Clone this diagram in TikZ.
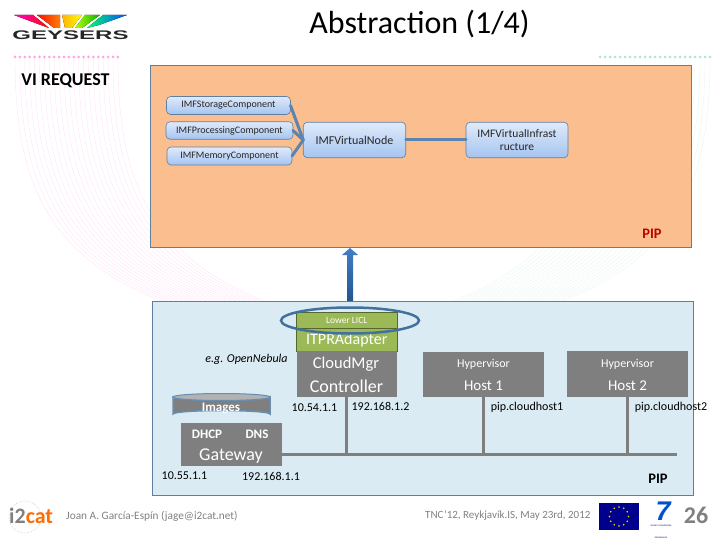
\documentclass[tikz,border=0pt]{standalone}
\usepackage{fontspec}
\setmainfont{Carlito}
\usetikzlibrary{arrows.meta}
\newcommand\szf[1]{\fontsize{#1}{#1}\selectfont}
\definecolor{peach}{HTML}{FBBE8E}
\definecolor{skyp}{HTML}{DAEBF3}
\definecolor{panelb}{HTML}{5F7F9F}
\definecolor{conn}{HTML}{5B84B1}
\definecolor{grayb}{HTML}{7F7F7F}
\definecolor{greenb}{HTML}{9BB956}
\definecolor{foot}{HTML}{808080}
\definecolor{ringb}{HTML}{41719C}
\definecolor{imftop}{HTML}{E0EAFA}
\definecolor{imfbot}{HTML}{A5C4F0}
\definecolor{arrtop}{HTML}{3F7FC6}
\definecolor{arrbot}{HTML}{24568F}
\tikzset{
  dim/.style 2 args={minimum width=#1pt,minimum height=#2pt,inner sep=0pt,outer sep=0pt},
  panel/.style={draw=panelb,line width=1pt},
  imfbox/.style={draw=panelb,line width=0.6pt,rounded corners=4pt,top color=imftop,bottom color=imfbot,text=black!85,align=center},
  link/.style={draw=conn,line width=3pt,line cap=round},
  graybox/.style={fill=grayb,text=white},
  greenbox/.style={fill=greenb,text=white,draw=black!45!greenb,line width=0.5pt},
  bus/.style={draw=grayb,line width=3pt},
  lbl/.style={text=black,inner sep=0pt},
  ftext/.style={text=foot,inner sep=0pt,anchor=west},
  whitet/.style={text=white,inner sep=0pt},
  bgpink/.style={draw=red!25!magenta!12!white,line width=0.35pt},
  bggreen/.style={draw=cyan!30!green!10!white,line width=0.35pt},
}
\begin{document}
\begin{tikzpicture}[x=1pt,y=-1pt]
\useasboundingbox (0,0) rectangle (720,540);
% faint slide background
\foreach \i in {0,...,21}{
  \pgfmathsetmacro\xx{15+\i*4.9}
  \draw[bgpink] (\xx,58) .. controls (\xx,170) and (\xx+25,255) .. (\xx+150,302);
  \fill[red!35!magenta!35!white] (\xx,57) circle (1.5);
}
\foreach \i in {0,...,22}{
  \pgfmathsetmacro\xx{600+\i*5}
  \draw[bggreen] (\xx,58) .. controls (\xx,170) and (\xx-25,255) .. (\xx-150,302);
  \fill[cyan!35!green!30!white] (\xx,57) circle (1.5);
}
% title
\node[lbl] (title) at (419.5,24) {\szf{32}Abstraction (1/4)};
% GEYSERS logo
\fill[left color=magenta!80!red,right color=red!90!orange] (14,15) -- (33,15) -- (49,28) -- (38,24) -- cycle;
\fill[left color=red!90!orange,right color=orange] (37,15) -- (60,15) -- (60,28) -- (54,28) -- cycle;
\fill[left color=orange!60!yellow,right color=yellow] (62,15) -- (82,15) -- (72,28) -- (65,28) -- cycle;
\fill[left color=yellow!70!green,right color=green!70!black] (85,15) -- (100,15) -- (82,28) -- (75,28) -- cycle;
\fill[left color=green!60!cyan,right color=blue!70!cyan] (103,15) -- (127,15) -- (99,25) -- (87,28) -- cycle;
\node[inner sep=0pt,text=black!85] (geysers) at (70.5,35) {\fontspec{Liberation Sans}\bfseries\scalebox{1.92}[1]{\szf{12.5}GEYSERS}};
% VI REQUEST
\node[lbl] (vireq) at (65.5,81) {\szf{18}\bfseries VI REQUEST};
% peach panel
\node[panel,fill=peach,dim={541}{181}] (pip) at (420.5,156.5) {};
\node[lbl,text=red!75!black] (piplbl) at (652,233.5) {\szf{14.5}\bfseries PIP};
% IMF boxes
\node[imfbox,dim={124}{18}] (storage) at (228.5,105.5) {\szf{10}IMFStorageComponent};
\node[imfbox,dim={127}{17.5}] (proc) at (229.5,130.5) {\szf{10}IMFProcessingComponent};
\node[imfbox,dim={125}{18}] (mem) at (229.5,156) {\szf{10}IMFMemoryComponent};
\node[imfbox,dim={102.5}{35.5}] (vnode) at (354.5,140) {\szf{12}IMFVirtualNode};
\node[imfbox,dim={102}{35.5}] (infra) at (517,140) {\szf{11.5}IMFVirtualInfrast\\[1.5pt]\szf{11.5}ructure};
\draw[link] (vnode.west) -- (storage.east);
\draw[link] (vnode.west) -- (proc.east);
\draw[link] (vnode.west) -- (mem.east);
\draw[link] (vnode.east) -- (infra.west);
% blue panel
\node[panel,fill=skyp,dim={541}{194}] (cloud) at (422.5,398) {};
% up arrow
\shade[top color=arrtop,bottom color=arrbot] (347,301) -- (347,255) -- (342,255) -- (350,248) -- (358,255) -- (353,255) -- (353,301) -- cycle;
% controller stack
\node[greenbox,dim={100.5}{23}] (itpr) at (346.75,340) {\szf{16}ITPRAdapter};
\node[greenbox,dim={100.5}{16}] (licl) at (346.75,320.5) {\szf{9.5}Lower LICL};
\node[graybox,dim={100.5}{46}] (cmgr) at (346.75,374) {};
\node[whitet] (cmgrt) at (346,364.5) {\szf{16.5}CloudMgr};
\node[whitet] (ctrlt) at (346.5,386.5) {\szf{18}Controller};
\draw[ringb,line width=2.5pt] (350,320.5) ellipse (69 and 13);
\node[lbl] (nebula) at (246.5,359.5) {\szf{12}\itshape e.g. OpenNebula};
% hosts
\node[graybox,dim={121}{45.5}] (host1) at (483.5,374.5) {};
\node[whitet] (hv1) at (483.5,364) {\szf{12}Hypervisor};
\node[whitet] (h1t) at (483.5,386) {\szf{15}Host 1};
\node[graybox,dim={121}{46}] (host2) at (627.5,374) {};
\node[whitet] (hv2) at (627.5,364) {\szf{12}Hypervisor};
\node[whitet] (h2t) at (627.5,386) {\szf{15}Host 2};
% images
\fill[grayb,draw=ringb!80!white,line width=1.5pt] (173,397) -- (173,414) arc[start angle=180,end angle=360,x radius=48.5,y radius=3.5] -- (270,397) arc[start angle=0,end angle=180,x radius=48.5,y radius=3.5] -- cycle;
\fill[black!30,draw=ringb!80!white,line width=1pt] (221.5,397) ellipse (48.5 and 3.5);
\node[whitet] (images) at (221,408) {\szf{13}\bfseries Images};
% gateway
\node[graybox,dim={101}{42.5}] (gw) at (231.5,444.5) {};
\node[whitet] (dhcp) at (207,434.5) {\szf{13}\bfseries DHCP};
\node[whitet] (dns) at (257,434.5) {\szf{13}\bfseries DNS};
\node[whitet] (gwt) at (231,456) {\szf{18}Gateway};
% bus
\coordinate (busstart) at (gw.east |- 0,454);
\coordinate (busend) at (677,454);
\draw[bus] (busstart) -- (busend);
\draw[bus] (cmgr.south) -- (cmgr.south |- busend);
\draw[bus] (host1.south) -- (host1.south |- busend);
\draw[bus] (host2.south) -- (host2.south |- busend);
% address labels
\node[lbl] (a1) at (314.5,407.5) {\szf{12}10.54.1.1};
\node[lbl] (a2) at (380.5,406) {\szf{12}192.168.1.2};
\node[lbl] (a3) at (184.5,476) {\szf{12}10.55.1.1};
\node[lbl] (a4) at (271,476) {\szf{12}192.168.1.1};
\node[lbl] (a5) at (527,407) {\szf{12}pip.cloudhost1};
\node[lbl] (a6) at (671,407) {\szf{12}pip.cloudhost2};
\node[lbl] (piplbl2) at (658,479) {\szf{14.5}\bfseries PIP};
% footer
\draw[black!25,densely dotted,line width=0.5pt] (25,517) circle (16);
\node[inner sep=0pt,anchor=west] (i2cat) at (9,516) {\szf{22}\bfseries\textcolor{foot}{i2}\textcolor{orange!85!red}{cat}};
\node[ftext] (author) at (66,516) {\szf{11.3}Joan A. García-Espín (jage@i2cat.net)};
\node[ftext] (conf) at (425,516) {\szf{11}TNC'12, Reykjavík.IS, May 23rd, 2012};
\node[fill=blue!55!black,dim={40}{27}] (flag) at (619,516.5) {};
\foreach \a in {0,30,...,330}{
  \fill[yellow!90!orange] (flag.center) ++(\a:9.5) circle (0.9);
}
\node[inner sep=0pt,text=blue!60!cyan!80!black] (seven) at (663,511) {\fontspec{Liberation Sans}\szf{27}\bfseries\itshape 7};
\node[inner sep=0pt,text=blue!60!black,align=center] (fp) at (661,532) {\szf{2.2}SEVENTH FRAMEWORK\\[0.3pt]\szf{2.2}PROGRAMME};
\node[inner sep=0pt,text=foot] (pageno) at (696,515) {\szf{24}\bfseries 26};
\end{tikzpicture}
\end{document}
